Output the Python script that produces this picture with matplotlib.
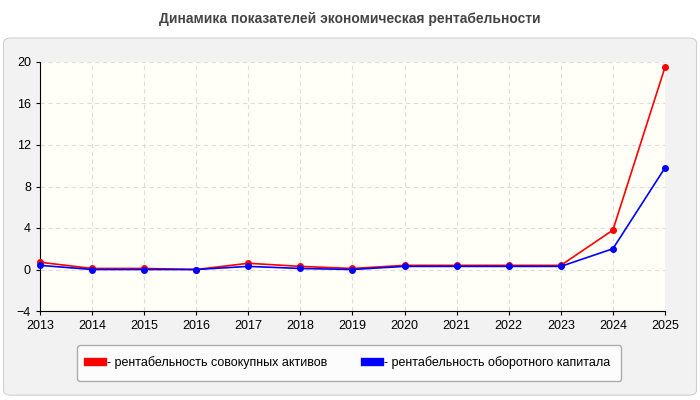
import matplotlib
matplotlib.use("Agg")
import matplotlib.pyplot as plt
from matplotlib.patches import FancyBboxPatch

years = [2013,2014,2015,2016,2017,2018,2019,2020,2021,2022,2023,2024,2025]
assets = [0.7,0.1,0.1,0.0,0.6,0.3,0.1,0.4,0.4,0.4,0.4,3.8,19.5]
working = [0.4,0.0,0.0,0.0,0.3,0.1,0.0,0.3,0.3,0.3,0.3,2.0,9.8]
yticks = [-4,0,4,8,12,16,20]
title = "Динамика показателей экономическая рентабельности"
labels = ["- рентабельность совокупных активов", "- рентабельность оборотного капитала"]

plt.rcParams['font.family'] = ['Arial', 'Liberation Sans', 'DejaVu Sans']
fig = plt.figure(figsize=(7, 4), dpi=100)
fig.patch.set_facecolor('white')
panel = FancyBboxPatch((0.005, 0.012), 0.99, 0.893, boxstyle="round,pad=0,rounding_size=0.012",
                       transform=fig.transFigure, facecolor='#f2f2f2', edgecolor='#d0d0d0', lw=0.8,
                       zorder=-10)
fig.patches.append(panel)
fig.text(0.5, 0.952, title, ha='center', va='center', fontsize=10, fontweight='bold', color='#444444')

ax = fig.add_axes([40/700, 1-311/400, 625/700, 249/400])
ax.set_facecolor('#fffff8')
ax.plot(years, assets, color='red', marker='o', ms=4, lw=1.2, label=labels[0], zorder=3, clip_on=False)
ax.plot(years, working, color='blue', marker='o', ms=4, lw=1.2, label=labels[1], zorder=3, clip_on=False)
ax.set_xlim(2013, 2025)
ax.set_ylim(-4, 20)
ax.set_xticks(years)
ax.set_yticks(yticks)
ax.tick_params(labelsize=9, colors='black', length=3)
ax.grid(True, ls=(0, (4, 3)), color='#dddddd', lw=0.8)
for s in ['top', 'right']:
    ax.spines[s].set_visible(False)
for s in ['left', 'bottom']:
    ax.spines[s].set_color('black')
    ax.spines[s].set_linewidth(0.8)

leg = fig.legend(loc='center', bbox_to_anchor=(349/700, 1-363/400), ncol=2, fontsize=9,
                 frameon=True, fancybox=True, edgecolor='#999999', facecolor='white',
                 handlelength=1.2, handletextpad=0.3, columnspacing=3, borderpad=0.9)
for h in leg.legend_handles:
    h.set_linewidth(6)
    h.set_marker('')
fig.savefig('out.png', dpi=100)
